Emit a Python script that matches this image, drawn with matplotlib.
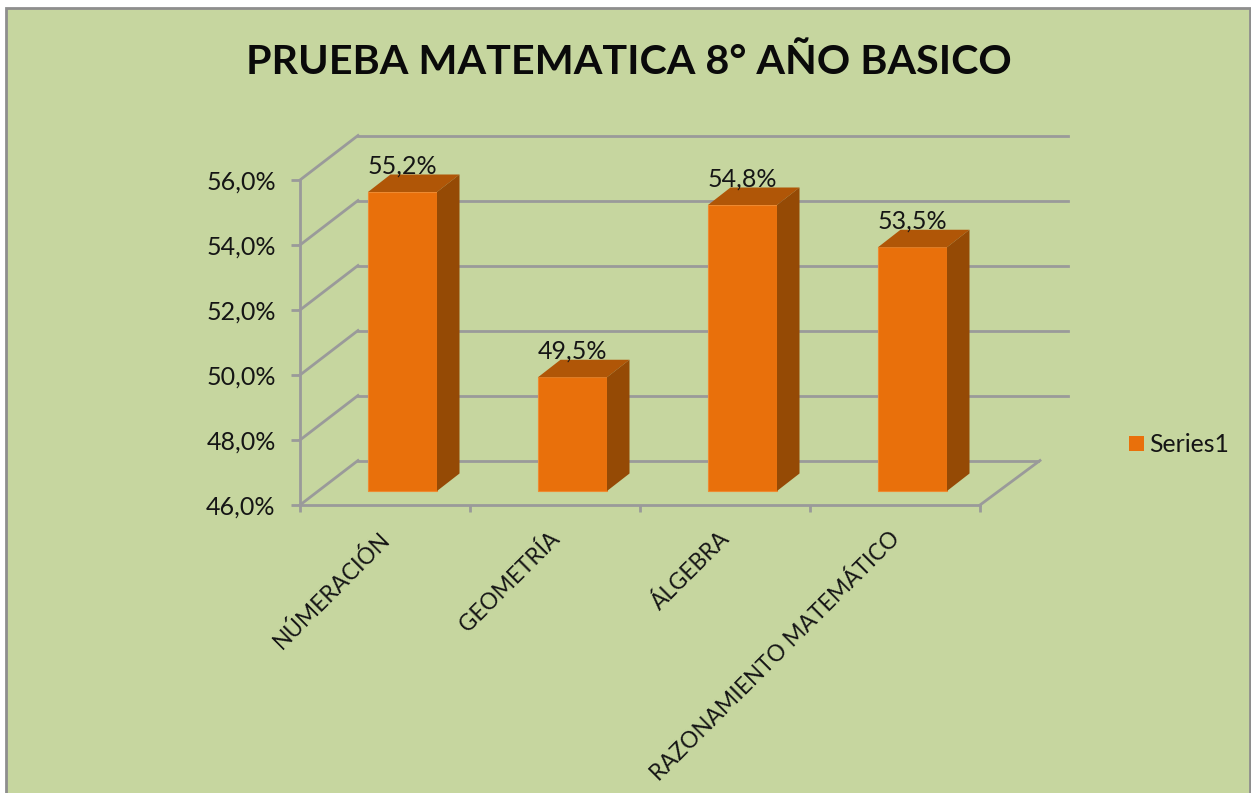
import matplotlib
matplotlib.use("Agg")
import matplotlib.pyplot as plt
from matplotlib.patches import Polygon, Rectangle, Patch
from matplotlib.transforms import ScaledTranslation

categories = ["NÚMERACIÓN", "GEOMETRÍA", "ÁLGEBRA", "RAZONAMIENTO MATEMÁTICO"]
values = [55.2, 49.5, 54.8, 53.5]
value_labels = ["55,2%", "49,5%", "54,8%", "53,5%"]
y_ticks = [46, 48, 50, 52, 54, 56]
y_tick_labels = ["46,0%", "48,0%", "50,0%", "52,0%", "54,0%", "56,0%"]
series_name = "Series1"

W, H = 1251, 793
BG = "#C6D69F"
GRID = "#9A9A9A"
FRONT, TOP, SIDE = "#E9700B", "#B05607", "#954A05"
TXT = "#151515"
plt.rcParams["font.family"] = ["Lato", "DejaVu Sans"]

fig = plt.figure(figsize=(W / 100, H / 100), dpi=100, facecolor="white")
fig.add_artist(Rectangle((6 / W, -0.01), (1244) / W, 1.01 - 8 / H, transform=fig.transFigure,
                         facecolor=BG, edgecolor="#8E8E8E", linewidth=2, zorder=-5))

L, R, T, B = 300, 980, 180, 505
ax = fig.add_axes([L / W, 1 - B / H, (R - L) / W, (B - T) / H])
ax.set_facecolor("none")
ax.set_xlim(0, len(categories))
ax.set_ylim(y_ticks[0], y_ticks[-1])

px_x = len(categories) / (R - L)
px_y = (y_ticks[-1] - y_ticks[0]) / (B - T)
wall_dx, wall_dy = 58 * px_x, 44.5 * px_y
grid_extra = 88 * px_x

# walls and floor
for v in y_ticks:
    ax.plot([0, wall_dx], [v, v + wall_dy], color=GRID, lw=2, clip_on=False, zorder=1)
    end = len(categories) + (wall_dx if v == y_ticks[0] else grid_extra)
    ax.plot([wall_dx, end], [v + wall_dy] * 2, color=GRID, lw=2, clip_on=False, zorder=1)
ax.plot([len(categories), len(categories) + 60 * px_x], [y_ticks[0], y_ticks[0] + wall_dy],
        color=GRID, lw=2, clip_on=False, zorder=1)

# bars
off_x, off_y = 68 * px_x, 14 * px_y
bw = 69 * px_x
dep_x, dep_y = 22.5 * px_x, 17.5 * px_y
base = y_ticks[0] + off_y
lefts = [i + off_x for i in range(len(values))]
bars = ax.bar(lefts, [v - y_ticks[0] for v in values], width=bw, bottom=base, align="edge",
              color=FRONT, edgecolor="#EE8A30", linewidth=0.8, zorder=3, clip_on=False,
              label=series_name)
for x0, v, lab in zip(lefts, values, value_labels):
    top = base + v - y_ticks[0]
    x1 = x0 + bw
    ax.add_patch(Polygon([(x0, top), (x1, top), (x1 + dep_x, top + dep_y), (x0 + dep_x, top + dep_y)],
                         closed=True, facecolor=TOP, edgecolor="none", zorder=3, clip_on=False))
    ax.add_patch(Polygon([(x1, base), (x1, top), (x1 + dep_x, top + dep_y), (x1 + dep_x, base + dep_y)],
                         closed=True, facecolor=SIDE, edgecolor="none", zorder=3, clip_on=False))
    ax.annotate(lab, (x0 + bw / 2, top), xytext=(0, 19), textcoords="offset points",
                ha="center", va="center", fontsize=18, color=TXT, zorder=5,
                annotation_clip=False)

# axes
for s in ("top", "right"):
    ax.spines[s].set_visible(False)
for s in ("left", "bottom"):
    ax.spines[s].set_color(GRID)
    ax.spines[s].set_linewidth(2)
ax.set_yticks(y_ticks, y_tick_labels, fontsize=18, color=TXT)
ax.tick_params(axis="y", length=6.5, width=2, color=GRID, pad=11)
ax.set_xticks(range(len(categories) + 1), [""] * (len(categories) + 1))
ax.tick_params(axis="x", which="major", length=5, width=2, color=GRID)
ax.set_xticks([i + 0.5 for i in range(len(categories))], categories, minor=True,
              rotation=45, ha="right", rotation_mode="anchor", fontsize=16.3, color=TXT)
ax.tick_params(axis="x", which="minor", length=0, pad=16)
shift = ScaledTranslation(-6 / 100, 0, fig.dpi_scale_trans)
for lbl in ax.get_xticklabels(minor=True):
    lbl.set_transform(lbl.get_transform() + shift)

fig.text(629 / W, 1 - 62 / H, "PRUEBA MATEMATICA 8° AÑO BASICO", ha="center", va="center",
         fontsize=29.7, fontweight="bold", color="#0A0A0A")

fig.legend(handles=[Patch(facecolor=FRONT, label=series_name)], loc="center left",
           bbox_to_anchor=(1122 / W, 1 - 445 / H), frameon=False, fontsize=17.8,
           handlelength=0.58, handleheight=0.58, handletextpad=0.2, labelcolor=TXT,
           borderpad=0.3, borderaxespad=0)

fig.savefig("out.png", dpi=100)
